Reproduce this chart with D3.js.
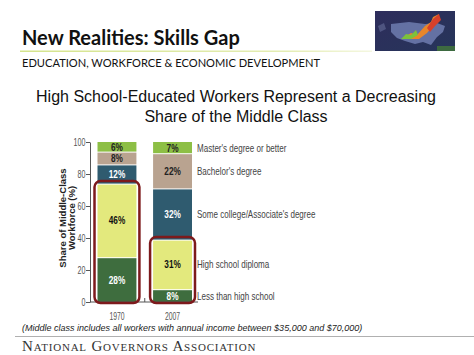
<!DOCTYPE html>
<html>
<head>
<meta charset="utf-8">
<script src="https://cdn.jsdelivr.net/npm/d3@7"></script>
<style>
  body { margin: 0; background: #fff; }
  svg { display: block; }
</style>
</head>
<body>
<div id="chart"></div>
<script>
// data
const years = ["1970", "2007"]
const levels = ["Less than high school", "High school diploma", "Some college/Associate's degree", "Bachelor's degree", "Master's degree or better"]
const share1970 = [28, 46, 12, 8, 6]
const share2007 = [8, 31, 32, 22, 7]
const yTicks = [0, 20, 40, 60, 80, 100]
const highlighted = ["Less than high school", "High school diploma"]

const colors = ["#3e6d3e", "#e3e97d", "#2f5b6f", "#b9a390", "#8dbf45"]
const labelColors = ["#fff", "#111", "#fff", "#222", "#222"]

const W = 474, H = 355
const sans = "'Liberation Sans', Arial, sans-serif"

const svg = d3.select("#chart").append("svg")
    .attr("width", W)
    .attr("height", H)
const defs = svg.append("defs")

// the chart text on the slide is squeezed sideways, so squeeze ours too
function squeezed(sel, px, py, sx) {
    return sel.attr("transform", `translate(${px},${py}) scale(${sx},1)`)
}

// header
svg.append("text")
    .attr("x", 22).attr("y", 45)
    .attr("font-family", "Lato, 'Open Sans', sans-serif")
    .attr("font-weight", "bold")
    .attr("font-size", 20)
    .attr("fill", "#111")
    .text("New Realities: Skills Gap")

const grad = defs.append("linearGradient").attr("id", "hdrline")
grad.append("stop").attr("offset", "0%").attr("stop-color", "#d4e48c")
grad.append("stop").attr("offset", "75%").attr("stop-color", "#e4edb4")
grad.append("stop").attr("offset", "100%").attr("stop-color", "#f4f7e0")

svg.append("rect")
    .attr("x", 20).attr("y", 50.5)
    .attr("width", 352).attr("height", 1.5)
    .attr("fill", "url(#hdrline)")

svg.append("text")
    .attr("x", 22).attr("y", 67)
    .attr("font-family", "Lato, 'Open Sans', sans-serif")
    .attr("font-size", 11.1)
    .attr("fill", "#111")
    .text("EDUCATION, WORKFORCE & ECONOMIC DEVELOPMENT")

// little map picture top right
const pic = svg.append("g").attr("transform", "translate(375,11)")
const pg = defs.append("linearGradient").attr("id", "picbg")
    .attr("x1", 0).attr("y1", 0).attr("x2", 1).attr("y2", 1)
pg.append("stop").attr("offset", "0%").attr("stop-color", "#2e2d5c")
pg.append("stop").attr("offset", "100%").attr("stop-color", "#26355a")
pic.append("rect").attr("width", 80).attr("height", 40).attr("fill", "url(#picbg)")
pic.append("path")
    .attr("d", "M16,13 L34,11 L50,13 L62,12 L70,15 L68,21 L62,26 L56,34 L48,31 L40,33 L30,30 L22,27 L16,21 Z")
    .attr("fill", "#6f7db0").attr("opacity", 0.85)
pic.append("path")
    .attr("d", "M3,15 L9,12 L11,18 L5,21 Z").attr("fill", "#5d6490").attr("opacity", 0.7)
pic.append("rect").attr("x", 62).attr("y", 35).attr("width", 18).attr("height", 5).attr("fill", "#3d6a40")
pic.append("path")
    .attr("d", "M28,27 L36,22 L42,24 L50,15 L56,11 L58,6 L64,3 L62,10 L58,15 L52,22 L44,28 L36,28 Z")
    .attr("fill", "#e8862a")
pic.append("path")
    .attr("d", "M52,17 L58,8 L64,3 L66,9 L60,15 L55,21 Z").attr("fill", "#d8402a")
pic.append("path")
    .attr("d", "M26,28 L31,23 L36,24 L41,19 L43,24 L36,28 Z").attr("fill", "#7cc23a")

// title
const title = svg.append("text")
    .attr("text-anchor", "middle")
    .attr("font-family", sans)
    .attr("font-size", 16)
    .attr("fill", "#111")
title.append("tspan").attr("x", 236).attr("y", 102).text("High School-Educated Workers Represent a Decreasing")
title.append("tspan").attr("x", 236).attr("y", 122).text("Share of the Middle Class")

// chart
const x = d3.scaleBand()
    .domain(years)
    .range([90, 199.5])
    .paddingInner(0.3)
    .paddingOuter(0.135)

const y = d3.scaleLinear()
    .domain([0, 100])
    .range([302, 142])

const table = years.map((yr, i) => {
    const vals = i === 0 ? share1970 : share2007
    let acc = 0
    return levels.map((lv, j) => {
        const d = { year: yr, level: lv, value: vals[j], y0: acc, y1: acc + vals[j], idx: j }
        acc += vals[j]
        return d
    })
})

const yAxis = svg.append("g")
    .attr("transform", "translate(90,0)")
    .call(d3.axisLeft(y).tickValues(yTicks).tickSize(4).tickSizeOuter(0))
yAxis.select(".domain").attr("stroke", "#555")
yAxis.selectAll(".tick line").attr("stroke", "#555")
yAxis.selectAll(".tick text").each(function () {
    squeezed(d3.select(this), -4.5, 0, 0.62)
        .attr("x", 0)
        .attr("font-family", sans)
        .attr("font-size", 11.5)
        .attr("fill", "#555")
})

const ylab = svg.append("text")
    .attr("transform", "translate(70,218) rotate(-90)")
    .attr("text-anchor", "middle")
    .attr("font-family", sans)
    .attr("font-weight", "bold")
    .attr("font-size", 9.5)
    .attr("fill", "#222")
ylab.append("tspan").attr("x", 0).attr("y", -4.5).text("Share of Middle-Class")
ylab.append("tspan").attr("x", 0).attr("y", 4.5).text("Workforce (%)")

// segments
const bars = svg.append("g")
table.forEach(stack => {
    bars.selectAll(null)
        .data(stack)
        .enter()
        .append("rect")
        .attr("x", d => x(d.year))
        .attr("width", x.bandwidth())
        .attr("y", d => y(d.y1) + (d.y1 < 100 ? 1 : 0))
        .attr("height", d => y(d.y0) - y(d.y1) - (d.y1 < 100 ? 1 : 0))
        .attr("fill", d => colors[d.idx])

    bars.selectAll(null)
        .data(stack)
        .enter()
        .append("text")
        .each(function (d) {
            squeezed(d3.select(this), x(d.year) + x.bandwidth() / 2, y((d.y0 + d.y1) / 2) + 4, 0.75)
        })
        .attr("text-anchor", "middle")
        .attr("font-family", sans)
        .attr("font-weight", "bold")
        .attr("font-size", 11)
        .attr("fill", d => labelColors[d.idx])
        .text(d => d.value + "%")
})

// x axis
const xAxis = svg.append("g")
    .attr("transform", "translate(0,302)")
xAxis.append("line").attr("x1", 90).attr("x2", 198).attr("stroke", "#555")
const mid = (x("1970") + x.bandwidth() + x("2007")) / 2
xAxis.append("line")
    .attr("x1", mid).attr("x2", mid)
    .attr("y1", 0).attr("y2", -4).attr("stroke", "#555")
xAxis.selectAll(null)
    .data(years)
    .enter()
    .append("text")
    .each(function (d) {
        squeezed(d3.select(this), x(d) + x.bandwidth() / 2, 18, 0.62)
    })
    .attr("text-anchor", "middle")
    .attr("font-family", sans)
    .attr("font-size", 11)
    .attr("fill", "#555")
    .text(d => d)

// red highlight around the high school (and below) part
table.forEach(stack => {
    const top = d3.max(stack.filter(d => highlighted.includes(d.level)), d => d.y1)
    svg.append("rect")
        .attr("x", x(stack[0].year) - 3)
        .attr("y", y(top) - 2.5)
        .attr("width", x.bandwidth() + 6)
        .attr("height", y(0) - y(top) + 3.5)
        .attr("rx", 6)
        .attr("fill", "none")
        .attr("stroke", "#7d1a1c")
        .attr("stroke-width", 2.5)
})

// legend labels by the 2007 bar
svg.append("g").selectAll("text")
    .data(table[1])
    .enter()
    .append("text")
    .each(function (d) {
        squeezed(d3.select(this), 197, y((d.y0 + d.y1) / 2) + 4, 0.73)
    })
    .attr("font-family", sans)
    .attr("font-size", 11)
    .attr("fill", "#444")
    .text(d => d.level)

// footer
svg.append("text")
    .attr("x", 22).attr("y", 331)
    .attr("font-family", sans)
    .attr("font-style", "italic")
    .attr("font-size", 9)
    .attr("fill", "#222")
    .text("(Middle class includes all workers with annual income between $35,000 and $70,000)")

svg.append("line")
    .attr("x1", 15).attr("x2", 474)
    .attr("y1", 336.5).attr("y2", 336.5)
    .attr("stroke", "#b0b0b0")

svg.append("text")
    .attr("x", 22).attr("y", 351)
    .attr("font-family", "'Liberation Serif', 'Times New Roman', serif")
    .attr("font-size", 15)
    .attr("fill", "#333")
    .attr("font-variant", "small-caps")
    .attr("letter-spacing", 0.8)
    .text("National Governors Association")
</script>
</body>
</html>
